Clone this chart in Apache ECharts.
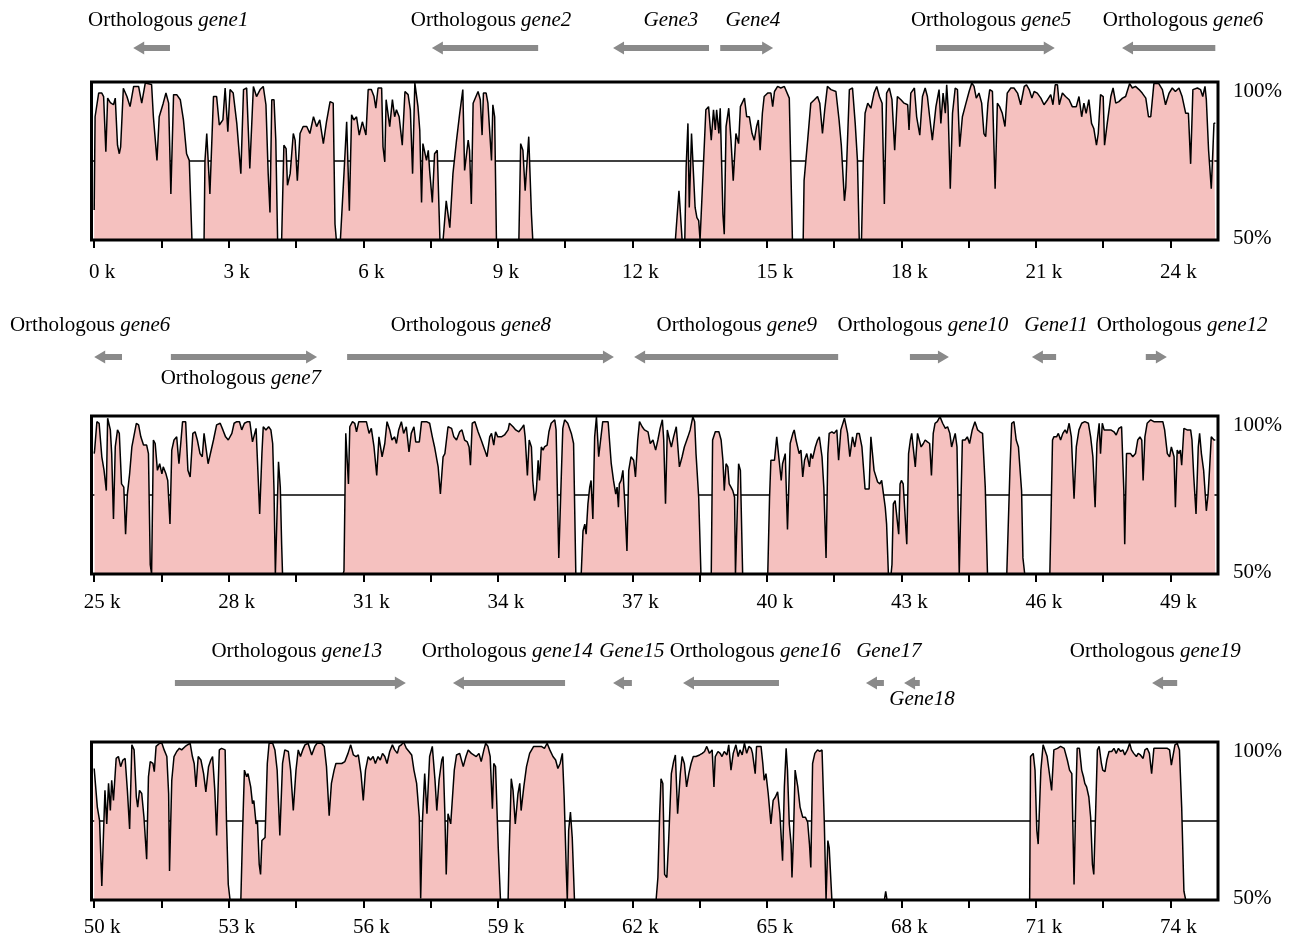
<!DOCTYPE html>
<html>
<head>
<meta charset="utf-8">
<title>Conservation plot</title>
<script src="https://cdn.jsdelivr.net/npm/echarts@6.0.0/dist/echarts.min.js"></script>
<style>
  html, body { margin: 0; padding: 0; background: #fff; }
  #chart { width: 1296px; height: 936px; }
</style>
</head>
<body>
<div id="chart"></div>
<script>
// identity (%) along the alignment, [position in kb, percent]
const panel1 = [
  [0.00,59.5],[0.02,89],[0.10,96.5],[0.17,96.5],[0.21,95.4],[0.26,77.9],[0.30,94.9],[0.36,93.5],[0.43,92.8],[0.47,94.9],
  [0.52,80],[0.56,77.3],[0.59,79.5],[0.65,98],[0.73,95.4],[0.80,92.2],[0.88,98.6],[0.99,98.6],[1.06,93.3],[1.14,99.7],
  [1.28,99.2],[1.32,89],[1.40,75.2],[1.45,89],[1.54,93.3],[1.60,96.5],[1.66,93.3],[1.71,64.6],[1.77,96],[1.84,96],
  [1.92,94.4],[1.99,88],[2.06,77.3],[2.12,75.2],[2.18,50],[2.45,50],[2.47,75],[2.51,83.7],[2.55,83.7],[2.58,64.6],
  [2.66,95.4],[2.73,95.4],[2.79,86.4],[2.87,88],[2.92,98.1],[2.98,84.3],[3.03,97.6],[3.10,96.5],[3.18,86.9],[3.27,71],
  [3.33,97.6],[3.40,98.1],[3.47,72.6],[3.55,98.6],[3.62,95.4],[3.70,97.6],[3.77,98.6],[3.83,92.8],[3.88,71],[3.92,58.7],
  [3.96,94.4],[4.01,94.4],[4.05,81.6],[4.09,50],[4.18,50],[4.23,80],[4.28,78.9],[4.31,67.3],[4.37,71],[4.44,83.7],
  [4.48,81.6],[4.53,68.8],[4.59,83.7],[4.66,85.9],[4.74,85.9],[4.81,83.7],[4.89,89],[4.96,85.9],[5.03,88],[5.11,80.5],
  [5.18,87.4],[5.26,93.8],[5.33,93.3],[5.37,55],[5.40,50],[5.49,50],[5.57,71],[5.63,87.4],[5.69,59.3],[5.74,89.6],
  [5.79,88],[5.85,89],[5.91,83.2],[5.98,87.4],[6.06,83.2],[6.11,97.6],[6.18,97.6],[6.24,95.4],[6.28,91.7],[6.33,98.1],
  [6.41,98.1],[6.44,79.5],[6.48,74.7],[6.51,94.4],[6.59,85.9],[6.65,94.4],[6.70,89],[6.74,91.2],[6.80,89],[6.87,80],
  [6.93,97],[7.00,96],[7.05,91.2],[7.10,71],[7.15,99.7],[7.22,92.2],[7.26,84.8],[7.30,61.9],[7.33,80.5],[7.41,75.2],
  [7.45,78.4],[7.48,72],[7.54,61.9],[7.59,77.3],[7.65,78.4],[7.71,50],[7.78,50],[7.85,62.4],[7.93,53.9],[8.00,71],
  [8.08,81.6],[8.15,90],[8.22,97.6],[8.26,72],[8.30,72],[8.34,81.6],[8.37,78.4],[8.41,61.4],[8.45,93.3],[8.49,93.3],
  [8.56,97],[8.61,94.4],[8.65,83.2],[8.68,96.5],[8.74,96.5],[8.78,93.3],[8.86,75.2],[8.89,92.8],[8.93,89],[8.97,50],
  [9.47,50],[9.51,80.5],[9.56,78.4],[9.61,65.6],[9.69,82.7],[9.75,58.2],[9.78,50],[12.96,50],[13.04,65.6],[13.11,50],
  [13.17,50],[13.20,73],[13.24,86.9],[13.27,60.3],[13.32,83.7],[13.36,83.7],[13.40,60.3],[13.44,57.1],[13.48,56.1],[13.51,50],
  [13.55,50],[13.61,81.6],[13.64,91.2],[13.70,92.2],[13.76,81.6],[13.81,91.2],[13.85,84.8],[13.88,91.2],[13.93,83.7],[13.96,91.7],
  [14.02,58.2],[14.05,51.8],[14.09,85.9],[14.15,91.7],[14.20,81.6],[14.25,68.8],[14.31,83.7],[14.37,80.5],[14.41,92.2],[14.50,94.9],
  [14.55,89],[14.61,89],[14.67,83.7],[14.72,81.6],[14.77,85.9],[14.81,88],[14.85,78.4],[14.90,90.1],[14.94,95.4],[15.02,96.5],
  [15.09,96.5],[15.13,92.2],[15.17,97],[15.24,98.6],[15.31,98.1],[15.39,98.6],[15.50,94.9],[15.54,94.9],[15.57,50],[15.81,50],
  [15.83,68.8],[15.91,81.6],[15.98,93.3],[16.06,94.4],[16.13,95.4],[16.18,93.3],[16.24,83.7],[16.29,91.2],[16.35,98.6],[16.43,97.6],
  [16.54,97],[16.61,88],[16.66,80],[16.69,80.5],[16.73,62.4],[16.76,66.7],[16.84,97.6],[16.91,98.1],[16.97,86.9],[17.02,75.2],
  [17.06,50],[17.11,50],[17.15,75.2],[17.19,90.1],[17.25,93.3],[17.32,91.7],[17.39,96.5],[17.45,98.6],[17.51,95.4],[17.57,93.3],
  [17.62,61.4],[17.67,96.5],[17.73,98.1],[17.79,94.4],[17.85,78.4],[17.91,95.4],[17.99,94.4],[18.06,93.3],[18.14,92.8],[18.17,84.8],
  [18.21,96.5],[18.29,98.1],[18.34,89],[18.41,83.2],[18.47,95.4],[18.53,98.1],[18.58,95.4],[18.63,89],[18.69,81.6],[18.77,92.2],
  [18.84,97.6],[18.88,86.9],[18.93,96.5],[18.98,90.1],[19.01,99.1],[19.04,92.2],[19.09,66.2],[19.14,90.1],[19.20,98.1],[19.25,97.6],
  [19.30,79.5],[19.36,89],[19.44,93.3],[19.51,97],[19.57,99.7],[19.62,98.6],[19.67,94.9],[19.73,96.5],[19.79,93.3],[19.84,83.7],
  [19.88,82.7],[19.93,93.3],[19.97,97.6],[20.03,97],[20.09,66.2],[20.14,93.3],[20.19,92.2],[20.25,90.1],[20.31,85.9],[20.36,96.5],
  [20.44,98.1],[20.51,98.1],[20.59,96.5],[20.66,92.8],[20.74,98.6],[20.79,99.1],[20.85,97.6],[20.91,94.9],[20.96,97],[21.03,96.5],
  [21.11,94.9],[21.18,92.8],[21.26,94.4],[21.33,96],[21.38,92.8],[21.43,99.1],[21.48,99.1],[21.52,92.8],[21.59,96.5],[21.66,95.4],
  [21.74,94.4],[21.81,92.2],[21.90,92.2],[21.96,95.4],[22.02,89],[22.07,93.3],[22.12,90.1],[22.18,94.4],[22.24,86.9],[22.29,85.3],
  [22.35,80],[22.39,83.7],[22.44,96],[22.50,95.4],[22.53,80],[22.59,86.9],[22.67,95.4],[22.72,98.1],[22.78,93.3],[22.85,93.8],
  [22.93,94.9],[23.00,95.4],[23.09,99.5],[23.15,98.1],[23.22,98.6],[23.30,97.6],[23.37,96.5],[23.45,94.9],[23.51,89],[23.56,89],
  [23.63,99.5],[23.74,99.5],[23.82,97.6],[23.89,92.8],[23.97,96.5],[24.04,98.1],[24.11,97],[24.19,98.1],[24.26,95.4],[24.34,90.1],
  [24.40,90.1],[24.45,74.1],[24.50,97.6],[24.60,98.1],[24.67,97.6],[24.72,95.4],[24.77,98.6],[24.80,94.4],[24.85,78.4],[24.91,66.2],
  [24.94,76.3],[24.97,86.9],[25.00,87]
];

const panel2 = [
  [25.00,88.1],[25.01,89.2],[25.06,98.2],[25.11,97.7],[25.17,87.1],[25.22,82.8],[25.27,76.4],[25.30,99.3],[25.36,95.6],[25.39,88.1],
  [25.43,67.4],[25.47,90.2],[25.52,95.6],[25.56,94.5],[25.61,78.5],[25.66,77.5],[25.70,62.6],[25.74,75.3],[25.79,81.7],[25.84,90.2],
  [25.88,90.8],[25.94,97.7],[25.99,97.2],[26.04,93.4],[26.10,90.8],[26.17,90.8],[26.21,88.1],[26.25,53],[26.28,50],[26.32,92.4],
  [26.36,91.3],[26.41,82.8],[26.46,84.9],[26.51,81.7],[26.54,83.9],[26.60,81.7],[26.64,79.6],[26.69,65.8],[26.73,89.2],[26.78,92.4],
  [26.84,93.4],[26.89,84.9],[26.93,91.3],[26.97,98.2],[27.04,98.2],[27.09,82.8],[27.14,80.7],[27.20,94.5],[27.25,95],[27.30,92.4],
  [27.36,88.1],[27.41,87.1],[27.45,94.5],[27.49,94.5],[27.54,84.9],[27.58,84.9],[27.66,92.4],[27.73,97.2],[27.81,97.7],[27.87,95.6],
  [27.93,93.4],[27.99,92.4],[28.07,94.5],[28.12,97.7],[28.18,98.2],[28.24,98.2],[28.29,95.6],[28.35,97.7],[28.42,98.2],[28.47,98.2],
  [28.53,91.8],[28.56,92.4],[28.61,96.1],[28.65,82.8],[28.69,69],[28.74,88.1],[28.77,96.6],[28.83,95.6],[28.89,96.6],[28.94,95.6],
  [28.98,91.3],[29.01,76.4],[29.04,50],[29.07,50],[29.11,85.5],[29.15,77.5],[29.18,59.4],[29.20,50],[30.55,50],[30.57,51],
  [30.61,94.5],[30.65,94.5],[30.67,78.5],[30.70,96.6],[30.76,98.2],[30.81,97.7],[30.85,95],[30.90,98.2],[31.07,98.2],[31.13,94.5],
  [31.18,96.1],[31.24,90.2],[31.30,81.2],[31.35,93.4],[31.38,93.4],[31.42,87.1],[31.48,91.3],[31.53,98.2],[31.59,95.6],[31.64,92.4],
  [31.70,93.4],[31.74,91.3],[31.79,95.6],[31.85,98.2],[31.90,94.5],[31.96,96.6],[32.02,88.6],[32.07,94.5],[32.13,96.6],[32.17,91.8],
  [32.25,91.8],[32.30,98.2],[32.41,98.2],[32.48,97.7],[32.54,93.4],[32.59,90.2],[32.67,83.9],[32.72,75.3],[32.78,87.1],[32.82,88.1],
  [32.89,96.6],[32.97,96.1],[33.02,93.4],[33.08,92.4],[33.15,95],[33.20,95.6],[33.26,92.4],[33.32,91.8],[33.36,90.2],[33.39,84.4],
  [33.43,97.7],[33.49,98.2],[33.56,95],[33.63,92.4],[33.71,89.2],[33.76,87.1],[33.82,93.4],[33.86,94.5],[33.91,90.8],[33.95,95],
  [34.00,93.4],[34.08,93.4],[34.15,94],[34.23,95.6],[34.26,97.7],[34.34,96.6],[34.40,95.6],[34.47,95],[34.53,96.1],[34.58,97.2],
  [34.61,93.4],[34.66,81.2],[34.70,92.4],[34.75,90.2],[34.78,79.6],[34.82,73.2],[34.86,76.4],[34.90,86],[34.93,79.6],[34.97,90.2],
  [35.01,89.2],[35.04,90.2],[35.10,90.8],[35.14,95],[35.19,97.7],[35.27,98.8],[35.30,95.6],[35.36,55.1],[35.42,82.8],[35.45,96.1],
  [35.49,98.8],[35.56,97.7],[35.64,94.5],[35.69,91.3],[35.74,50],[35.86,50],[35.90,63.6],[35.94,65.8],[35.97,62.6],[36.01,72.2],
  [36.05,77.5],[36.08,79.6],[36.12,67.4],[36.16,93.4],[36.20,99.8],[36.25,87.1],[36.28,87.6],[36.34,98.2],[36.46,98.2],[36.53,84.9],
  [36.58,79.6],[36.63,75.3],[36.66,77.5],[36.69,71.1],[36.71,78.5],[36.75,79.6],[36.79,82.8],[36.83,73.2],[36.88,57.3],[36.92,82.8],
  [36.97,87.1],[37.03,86],[37.07,80.7],[37.12,92.4],[37.16,98.2],[37.22,96.6],[37.27,95.6],[37.35,95],[37.40,91.3],[37.46,92.4],
  [37.52,89.2],[37.57,92.4],[37.62,96.1],[37.67,98.8],[37.70,92.4],[37.74,72.2],[37.78,95.6],[37.83,92.4],[37.87,90.2],[37.92,93.4],
  [37.98,96.6],[38.01,91.3],[38.05,83.9],[38.11,87.1],[38.16,90.2],[38.24,93.4],[38.29,95.6],[38.35,99.8],[38.39,98.2],[38.42,88.1],
  [38.48,74.3],[38.53,50],[38.76,50],[38.79,92.4],[38.85,95],[38.93,95],[38.98,92.4],[39.02,86],[39.05,76.4],[39.09,84.9],
  [39.13,83.9],[39.16,78.5],[39.20,77.5],[39.24,76.4],[39.28,74.3],[39.30,50],[39.32,50],[39.37,84.9],[39.41,82.8],[39.46,50],
  [40.02,50],[40.06,74.3],[40.09,86],[40.17,86],[40.22,93.4],[40.26,92.9],[40.32,79.6],[40.35,84.9],[40.41,88.1],[40.46,64.1],
  [40.52,91.3],[40.58,94.5],[40.61,95.6],[40.65,92.4],[40.72,88.1],[40.76,89.2],[40.80,80.7],[40.84,86],[40.89,88.1],[40.95,83.9],
  [40.98,88.1],[41.02,86.5],[41.08,90.2],[41.13,92.4],[41.17,93.4],[41.23,87.1],[41.27,77.5],[41.32,55.1],[41.36,88.1],[41.39,94.5],
  [41.45,95],[41.50,94.5],[41.56,95.6],[41.60,86],[41.65,95.6],[41.73,99.3],[41.80,94.5],[41.85,87.1],[41.91,93.4],[41.96,90.2],
  [42.01,94.5],[42.06,94.5],[42.12,90.2],[42.16,90.8],[42.19,76.9],[42.28,76.9],[42.32,93.4],[42.36,93.4],[42.39,82.8],[42.43,82.8],
  [42.47,79.1],[42.52,78.5],[42.56,79.6],[42.59,76.4],[42.64,71.1],[42.67,65.8],[42.71,50],[42.77,50],[42.79,53],[42.82,72.2],
  [42.86,73.2],[42.90,73.2],[42.94,62.6],[42.97,78.5],[43.00,79.6],[43.04,78.5],[43.08,69],[43.12,59.4],[43.16,88.1],[43.20,92.4],
  [43.23,94.5],[43.27,95],[43.31,83.9],[43.36,94.5],[43.40,94.5],[43.44,90.2],[43.49,91.3],[43.53,92.4],[43.58,91.8],[43.63,91.3],
  [43.67,81.2],[43.71,94.5],[43.75,97.7],[43.80,98.2],[43.86,99.8],[43.92,97.7],[43.98,96.1],[44.03,96.6],[44.08,94.5],[44.12,90.2],
  [44.16,92.4],[44.20,94.5],[44.24,90.2],[44.29,50],[44.33,50],[44.36,92.4],[44.42,92.4],[44.47,93.4],[44.52,91.3],[44.58,95.6],
  [44.64,98.2],[44.70,95.6],[44.75,95],[44.81,94.5],[44.87,77.5],[44.92,50],[45.35,50],[45.42,82.8],[45.46,97.7],[45.51,98.2],
  [45.56,92.4],[45.61,90.2],[45.65,90.8],[45.68,76.4],[45.71,55.1],[45.75,50],[46.31,50],[46.33,63.6],[46.37,92.4],[46.40,93.4],
  [46.46,93.4],[46.50,94.5],[46.55,92.4],[46.60,94.5],[46.65,95.6],[46.69,94.5],[46.74,97.7],[46.79,93.4],[46.85,73.8],[46.90,90.2],
  [46.96,95.6],[47.02,97.7],[47.09,98.2],[47.17,97.7],[47.22,93.4],[47.27,87.1],[47.32,71.1],[47.36,91.3],[47.41,97.7],[47.44,88.1],
  [47.48,97.7],[47.52,95.6],[47.59,95.6],[47.67,95.6],[47.74,95],[47.79,94],[47.85,96.1],[47.91,96.6],[47.96,76.4],[47.98,59.4],
  [48.02,88.1],[48.06,87.6],[48.11,88.1],[48.16,87.1],[48.22,88.1],[48.27,92.4],[48.32,93.4],[48.36,92.4],[48.39,79.6],[48.43,93.4],
  [48.48,97.7],[48.56,98.8],[48.63,98.2],[48.70,98.2],[48.78,98.2],[48.83,98.2],[48.87,95.6],[48.93,88.1],[48.98,87.1],[49.02,90.2],
  [49.08,87.1],[49.11,71.1],[49.15,89.2],[49.19,88.1],[49.22,89.2],[49.25,84.4],[49.30,96.1],[49.37,95.6],[49.45,95.6],[49.48,92.4],
  [49.52,80.7],[49.57,69],[49.62,90.2],[49.65,94.5],[49.69,88.1],[49.74,82.8],[49.80,70],[49.84,75.3],[49.87,82.8],[49.91,93.4],
  [49.97,92.4],[50.00,92.4]
];

const panel3 = [
  [50.00,91.6],[50.02,91.1],[50.07,79.4],[50.12,75.1],[50.17,54.4],[50.21,72],[50.24,84.7],[50.28,74.1],[50.32,86.9],[50.36,78.3],
  [50.39,87.9],[50.43,81.5],[50.49,94.8],[50.54,95.4],[50.59,92.2],[50.64,94.3],[50.69,94.8],[50.74,84.7],[50.79,72.5],[50.84,99.1],
  [50.89,97.5],[50.94,82.6],[50.97,79.4],[51.01,84.7],[51.06,83.7],[51.11,76.2],[51.17,62.9],[51.21,89],[51.25,93.8],[51.31,93.2],
  [51.34,90.6],[51.38,98.6],[51.46,99.6],[51.51,99.6],[51.56,97.5],[51.62,95.4],[51.66,83.7],[51.68,59.2],[51.73,87.9],[51.78,95.4],
  [51.84,97],[51.90,98],[51.95,97.5],[52.03,98.6],[52.08,99.1],[52.14,99.6],[52.19,95.4],[52.23,93.2],[52.27,85.8],[52.32,95.4],
  [52.38,94.3],[52.44,90],[52.49,84.2],[52.55,92.2],[52.60,94.3],[52.64,95.4],[52.69,84.7],[52.73,70.4],[52.79,97.5],[52.84,98],
  [52.92,97.5],[52.95,75.1],[52.99,54.9],[53.03,50],[53.27,50],[53.31,72],[53.35,91.1],[53.40,89],[53.43,90],[53.49,85.8],
  [53.53,80.5],[53.56,81.5],[53.61,74.1],[53.64,75.1],[53.68,61.3],[53.71,58.1],[53.74,68.8],[53.81,69.8],[53.86,93.2],[53.90,99.6],
  [53.98,99.6],[54.03,97.5],[54.08,91.1],[54.14,70.4],[54.20,93.2],[54.25,97.5],[54.33,97],[54.38,91.1],[54.44,78.3],[54.50,91.1],
  [54.55,97.5],[54.60,95.4],[54.65,97.5],[54.70,99.1],[54.77,99.6],[54.85,95.9],[54.92,98.6],[54.97,99.6],[55.07,99.6],[55.13,98.6],
  [55.18,92.2],[55.24,76.7],[55.29,86.9],[55.35,91.1],[55.39,93.2],[55.44,93.2],[55.52,93.2],[55.59,93.8],[55.66,96.4],[55.72,99.1],
  [55.78,95.9],[55.84,95.4],[55.89,95.9],[55.95,90],[56.00,81.5],[56.05,91.1],[56.11,95.4],[56.16,94.3],[56.22,95.4],[56.27,93.2],
  [56.33,95.4],[56.38,94.3],[56.43,96.4],[56.48,95.4],[56.53,93.2],[56.59,97],[56.65,99.1],[56.70,97.5],[56.76,96.4],[56.80,98.6],
  [56.85,99.1],[56.90,100],[56.96,98],[57.02,97],[57.08,95.9],[57.13,91.1],[57.19,86.9],[57.25,76.2],[57.28,50.5],[57.32,75.1],
  [57.37,90],[57.42,77.3],[57.48,95.4],[57.54,98.6],[57.60,87.9],[57.64,78.3],[57.69,87.9],[57.75,94.3],[57.78,95.4],[57.82,77.3],
  [57.85,58.1],[57.89,77.3],[57.95,74.1],[57.99,82.6],[58.03,91.1],[58.08,95.9],[58.15,96.4],[58.23,92.2],[58.29,95.4],[58.34,97.5],
  [58.41,96.4],[58.45,96.4],[58.52,95.4],[58.58,96.4],[58.63,93.8],[58.69,97.5],[58.73,99.6],[58.78,98.6],[58.83,95.4],[58.88,78.9],
  [58.91,93.2],[58.95,92.2],[59.01,66.6],[59.06,50],[59.23,50],[59.25,63.4],[59.30,88.4],[59.34,84.7],[59.39,74.1],[59.45,83.7],
  [59.49,86.9],[59.52,78.3],[59.58,85.8],[59.64,92.2],[59.71,96.4],[59.80,98.6],[59.97,98.6],[60.04,98],[60.10,99.6],[60.16,97.5],
  [60.23,95.4],[60.29,94.3],[60.34,91.6],[60.39,93.2],[60.44,96.4],[60.48,82.6],[60.53,58.1],[60.55,50],[60.58,72],[60.62,77.8],
  [60.66,69.8],[60.71,50],[62.53,50],[62.57,57.1],[62.61,77.3],[62.64,88.4],[62.68,86.9],[62.72,58.1],[62.77,57.1],[62.81,68.8],
  [62.87,90],[62.92,93.8],[62.96,95.9],[63.01,77.3],[63.07,90],[63.11,95.4],[63.16,93.2],[63.21,85.8],[63.26,90],[63.31,93.2],
  [63.36,95.4],[63.42,95.4],[63.50,95.9],[63.56,96.4],[63.61,97],[63.66,98.6],[63.72,96.4],[63.78,97.5],[63.82,85.8],[63.85,95.4],
  [63.91,97],[63.96,96.4],[64.00,95.4],[64.05,97],[64.11,95.9],[64.15,99.1],[64.20,91.1],[64.25,96.4],[64.31,99.1],[64.36,95.4],
  [64.40,97.5],[64.45,95.9],[64.50,99.6],[64.55,96.4],[64.60,98.6],[64.65,98],[64.68,96.4],[64.74,90],[64.77,98.6],[64.87,98.6],
  [64.91,93.2],[64.94,87.9],[64.98,90],[65.03,83.7],[65.09,74.1],[65.14,81.5],[65.19,82.6],[65.24,84.2],[65.29,77.3],[65.35,62.4],
  [65.39,85.8],[65.43,98],[65.46,91.1],[65.50,74.1],[65.54,67.7],[65.56,57.1],[65.59,68.8],[65.63,91.1],[65.69,85.8],[65.74,79.4],
  [65.80,76.2],[65.86,76.2],[65.91,74.6],[65.95,67.7],[65.98,60.3],[66.02,93.2],[66.07,96.4],[66.13,97.5],[66.18,97],[66.23,97.5],
  [66.28,75.1],[66.32,50],[66.36,68.8],[66.39,66.6],[66.45,50],[67.62,50],[67.65,52.7],[67.68,50],[70.86,50],[70.88,95.4],
  [70.94,96.4],[70.98,91.1],[71.02,72],[71.05,67.7],[71.11,91.1],[71.16,99.1],[71.20,99.6],[71.25,95.4],[71.31,89],[71.35,84.7],
  [71.40,97.5],[71.48,98],[71.55,98.6],[71.63,98],[71.70,94.3],[71.75,91.1],[71.80,90],[71.85,54.9],[71.89,82.6],[71.92,98],
  [71.97,98],[72.02,91.1],[72.06,89],[72.09,86.9],[72.13,85.8],[72.18,82.6],[72.22,76.2],[72.26,61.3],[72.29,58.1],[72.33,77.3],
  [72.37,97.5],[72.41,98.6],[72.46,93.2],[72.49,91.1],[72.54,90.6],[72.58,94.3],[72.63,97],[72.69,97],[72.74,98],[72.79,96.4],
  [72.84,98],[72.89,97],[72.94,97.5],[72.98,95.9],[73.04,97.5],[73.09,99.6],[73.13,97.5],[73.18,96.4],[73.24,95.4],[73.28,96.4],
  [73.33,95.9],[73.39,94.8],[73.43,97.5],[73.48,98],[73.53,96.4],[73.58,90],[73.63,98],[73.70,98],[73.78,98],[73.85,98],
  [73.93,98],[73.98,97.5],[74.02,92.7],[74.05,93.2],[74.10,99.1],[74.15,99.6],[74.20,97.5],[74.25,79.4],[74.30,52.8],[74.34,50],
  [75.00,50]
];

// genes: arrow runs from geneFrom to geneTo (kb), head at geneTo
const geneNames = ['gene1', 'gene2', 'Gene3', 'Gene4', 'gene5', 'gene6', 'gene7', 'gene8', 'gene9', 'gene10',
  'Gene11', 'gene12', 'gene13', 'gene14', 'Gene15', 'gene16', 'Gene17', 'Gene18', 'gene19'];
const geneFrom = [1.69, 9.90, 13.71, 13.96, 18.77, 25.62, 26.71, 30.64, 41.59, 43.19,
  46.45, 48.45, 51.80, 60.50, 61.99, 65.27, 67.61, 68.41, 74.15];
const geneTo = [0.87, 7.53, 11.57, 15.14, 21.42, 22.92, 29.97, 36.59, 37.04, 44.06,
  45.91, 48.92, 56.95, 58.00, 61.57, 63.13, 67.21, 68.06, 73.59];

// gene labels (gene6 is labelled in both rows)
const labelGene = ['gene1', 'gene2', 'Gene3', 'Gene4', 'gene5', 'gene6', 'gene6', 'gene7', 'gene8', 'gene9',
  'gene10', 'Gene11', 'gene12', 'gene13', 'gene14', 'Gene15', 'gene16', 'Gene17', 'Gene18', 'gene19'];
const labelPanel = [0, 0, 0, 0, 0, 0, 1, 1, 1, 1, 1, 1, 1, 2, 2, 2, 2, 2, 2, 2];
const labelKb = [1.65, 8.85, 12.86, 14.69, 20.0, 24.28, 24.91, 28.27, 33.40, 39.33,
  43.48, 46.45, 49.26, 54.52, 59.21, 61.99, 64.74, 67.72, 68.46, 73.66];
const labelBelow = [0, 0, 0, 0, 0, 0, 0, 1, 0, 0, 0, 0, 0, 0, 0, 0, 0, 0, 1, 0];

const panelStart = [0, 25, 50];
const panelSpan = 25;

// layout
const FONT = "'Liberation Serif', 'Times New Roman', serif";
const PAD = 0.06;
const gridTop = [82, 416, 742];
const gridHeight = 158;
const gridLeft = 91.5;
const gridWidth = 1126.5;
const tickLabelMargin = [22, 18, 17];
const arrowOffset = [34, 59, 59];
const labelOffset = [62, 91, 91];
const belowOffset = [0, 38, 43];
const SHAFT = 3;
const HEAD = 6.5;
const HEAD_LEN = 11;
const ARROW_COLOR = '#8a8a8a';
const FILL_COLOR = '#f5c1bf';

const geneRich = {
    n: { fontFamily: FONT, fontSize: 21, fill: '#000' },
    i: { fontFamily: FONT, fontSize: 21, fontStyle: 'italic', fill: '#000' }
};

function labelText(name) {
    if (name.indexOf('gene') === 0) {
        return '{n|Orthologous }{i|' + name + '}';
    }
    return '{i|' + name + '}';
}

function arrowRenderer(p) {
    return function (params, api) {
        const a = api.coord([api.value(0), 100]);
        const b = api.coord([api.value(1), 100]);
        const y = a[1] - arrowOffset[p];
        const xa = a[0];
        const xb = b[0];
        const dir = xb > xa ? 1 : -1;
        const hl = Math.min(HEAD_LEN, Math.abs(xb - xa) * 0.8);
        const xh = xb - dir * hl;
        return {
            type: 'polygon',
            shape: {
                points: [[xa, y - SHAFT], [xh, y - SHAFT], [xh, y - HEAD], [xb, y],
                    [xh, y + HEAD], [xh, y + SHAFT], [xa, y + SHAFT]]
            },
            style: { fill: ARROW_COLOR }
        };
    };
}

function labelRenderer(p, list) {
    return function (params, api) {
        const item = list[params.dataIndex];
        const pt = api.coord([item.kb, 100]);
        const y = pt[1] - (item.below ? belowOffset[p] : labelOffset[p]);
        return {
            type: 'text',
            style: {
                text: item.text,
                rich: geneRich,
                x: pt[0],
                y: y,
                align: 'center',
                verticalAlign: 'middle',
                font: '21px ' + FONT,
                fill: '#000'
            }
        };
    };
}

const panels = [panel1, panel2, panel3];
const grid = [];
const xAxis = [];
const yAxis = [];
const series = [];

for (let p = 0; p < 3; p++) {
    const s = panelStart[p];
    const e = s + panelSpan;
    const tickVals = [];
    for (let i = 0; i <= 16; i++) tickVals.push(s + 1.5 * i);
    const labelVals = [];
    for (let i = 0; i <= 8; i++) labelVals.push(s + 3 * i);

    grid.push({
        left: gridLeft,
        width: gridWidth,
        top: gridTop[p],
        height: gridHeight,
        outerBoundsMode: 'none',
        containLabel: false,
        show: true,
        borderColor: '#000',
        borderWidth: 3,
        backgroundColor: 'transparent',
        z: 5
    });
    xAxis.push({
        gridIndex: p,
        type: 'value',
        min: s - PAD,
        max: e + PAD,
        axisLine: { show: false },
        splitLine: { show: false },
        axisTick: {
            show: true,
            length: 8,
            customValues: tickVals,
            lineStyle: { color: '#000', width: 2 }
        },
        axisLabel: {
            customValues: labelVals,
            margin: tickLabelMargin[p],
            formatter: v => '{a|' + Math.round(v) + ' k}',
            rich: {
                a: { fontFamily: FONT, fontSize: 21, color: '#000', padding: [0, 0, 0, 16] }
            }
        }
    });
    yAxis.push({
        gridIndex: p,
        type: 'value',
        min: 50,
        max: 100,
        position: 'right',
        axisLine: { show: false },
        axisTick: { show: false },
        splitLine: { show: false },
        axisLabel: {
            customValues: [50.4, 97],
            formatter: v => (v > 75 ? '100%' : '50%'),
            margin: 15,
            color: '#000',
            fontFamily: FONT,
            fontSize: 21
        }
    });

    // 75% reference line, sits under the filled curve
    series.push({
        type: 'line',
        xAxisIndex: p,
        yAxisIndex: p,
        data: [[s - PAD, 75], [e + PAD, 75]],
        symbol: 'none',
        silent: true,
        lineStyle: { color: '#000', width: 1.6 },
        z: 1
    });
    series.push({
        type: 'line',
        xAxisIndex: p,
        yAxisIndex: p,
        data: panels[p],
        symbol: 'none',
        silent: true,
        lineStyle: { color: '#000', width: 1.5 },
        areaStyle: { color: FILL_COLOR, opacity: 1, origin: 'start' },
        z: 2
    });

    // gene arrows clipped to this panel
    const pieces = [];
    for (let g = 0; g < geneNames.length; g++) {
        const lo = Math.min(geneFrom[g], geneTo[g]);
        const hi = Math.max(geneFrom[g], geneTo[g]);
        if (hi <= s || lo >= e) continue;
        const f = Math.min(Math.max(geneFrom[g], s), e);
        const t = Math.min(Math.max(geneTo[g], s), e);
        pieces.push([f, t]);
    }
    series.push({
        type: 'custom',
        xAxisIndex: p,
        yAxisIndex: p,
        data: pieces,
        renderItem: arrowRenderer(p),
        clip: false,
        silent: true,
        z: 3
    });

    const labels = [];
    for (let k = 0; k < labelGene.length; k++) {
        if (labelPanel[k] !== p) continue;
        labels.push({ kb: labelKb[k], below: labelBelow[k], text: labelText(labelGene[k]) });
    }
    series.push({
        type: 'custom',
        xAxisIndex: p,
        yAxisIndex: p,
        data: labels.map(d => [d.kb, 100]),
        renderItem: labelRenderer(p, labels),
        clip: false,
        silent: true,
        z: 3
    });
}

const chart = echarts.init(document.getElementById('chart'), null, { renderer: 'canvas' });
chart.setOption({
    animation: false,
    backgroundColor: '#fff',
    textStyle: { fontFamily: FONT },
    grid,
    xAxis,
    yAxis,
    series
});
</script>
</body>
</html>
